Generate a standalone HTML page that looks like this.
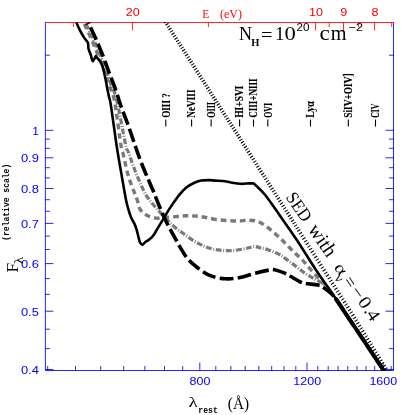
<!DOCTYPE html>
<html><head><meta charset="utf-8"><title>plot</title><style>html,body{margin:0;padding:0;background:#fff}svg{display:block;will-change:transform}</style></head><body>
<svg width="415" height="415" viewBox="0 0 415 415">
<filter id="bl" x="0" y="0" width="415" height="415" filterUnits="userSpaceOnUse" color-interpolation-filters="sRGB"><feConvolveMatrix order="3" kernelMatrix="0.015 0.1 0.015 0.1 0.54 0.1 0.015 0.1 0.015" edgeMode="duplicate" preserveAlpha="false"/></filter>
<g>
<rect width="415" height="415" fill="#fff"/>
<defs><clipPath id="cp"><rect x="45.0" y="21.9" width="349.0" height="348.9"/></clipPath></defs>
<g stroke="#0000ff" stroke-width="0.85" fill="none">
<path d="M45.4 22.5V370.5H393.5V22.5"/>
<path d="M47.7 370.5v-4.5"/>
<path d="M75.5 370.5v-4.5"/>
<path d="M100.7 370.5v-4.5"/>
<path d="M123.7 370.5v-4.5"/>
<path d="M144.9 370.5v-4.5"/>
<path d="M164.5 370.5v-4.5"/>
<path d="M182.7 370.5v-4.5"/>
<path d="M199.8 370.5v-8.0"/>
<path d="M215.8 370.5v-4.5"/>
<path d="M230.9 370.5v-4.5"/>
<path d="M245.2 370.5v-4.5"/>
<path d="M258.8 370.5v-4.5"/>
<path d="M271.7 370.5v-4.5"/>
<path d="M284.0 370.5v-4.5"/>
<path d="M295.8 370.5v-4.5"/>
<path d="M307.0 370.5v-8.0"/>
<path d="M317.8 370.5v-4.5"/>
<path d="M328.2 370.5v-4.5"/>
<path d="M338.1 370.5v-4.5"/>
<path d="M347.8 370.5v-4.5"/>
<path d="M357.0 370.5v-4.5"/>
<path d="M366.0 370.5v-4.5"/>
<path d="M374.7 370.5v-4.5"/>
<path d="M383.1 370.5v-8.0"/>
<path d="M391.2 370.5v-4.5"/>
<path d="M45.4 369.5h8.0"/>
<path d="M393.5 369.5h-8.0"/>
<path d="M45.4 348.6h4.5"/>
<path d="M393.5 348.6h-4.5"/>
<path d="M45.4 329.2h4.5"/>
<path d="M393.5 329.2h-4.5"/>
<path d="M45.4 311.2h8.0"/>
<path d="M393.5 311.2h-8.0"/>
<path d="M45.4 294.4h4.5"/>
<path d="M393.5 294.4h-4.5"/>
<path d="M45.4 278.6h4.5"/>
<path d="M393.5 278.6h-4.5"/>
<path d="M45.4 263.6h8.0"/>
<path d="M393.5 263.6h-8.0"/>
<path d="M45.4 249.5h4.5"/>
<path d="M393.5 249.5h-4.5"/>
<path d="M45.4 236.1h4.5"/>
<path d="M393.5 236.1h-4.5"/>
<path d="M45.4 223.4h8.0"/>
<path d="M393.5 223.4h-8.0"/>
<path d="M45.4 211.3h4.5"/>
<path d="M393.5 211.3h-4.5"/>
<path d="M45.4 199.7h4.5"/>
<path d="M393.5 199.7h-4.5"/>
<path d="M45.4 188.5h8.0"/>
<path d="M393.5 188.5h-8.0"/>
<path d="M45.4 177.9h4.5"/>
<path d="M393.5 177.9h-4.5"/>
<path d="M45.4 167.7h4.5"/>
<path d="M393.5 167.7h-4.5"/>
<path d="M45.4 157.8h8.0"/>
<path d="M393.5 157.8h-8.0"/>
<path d="M45.4 148.3h4.5"/>
<path d="M393.5 148.3h-4.5"/>
<path d="M45.4 139.1h4.5"/>
<path d="M393.5 139.1h-4.5"/>
<path d="M45.4 130.3h8.0"/>
<path d="M393.5 130.3h-8.0"/>
<path d="M45.4 55.2h4.5"/>
<path d="M393.5 55.2h-4.5"/>
</g>
<g stroke="#ff0000" stroke-width="0.85" fill="none">
<path d="M44.9 22.5H394.0"/>
<path d="M73.4 22.5v4.5"/>
<path d="M132.4 22.5v8.0"/>
<path d="M208.4 22.5v4.5"/>
<path d="M315.6 22.5v8.0"/>
<path d="M329.2 22.5v4.5"/>
<path d="M343.5 22.5v8.0"/>
<path d="M358.6 22.5v4.5"/>
<path d="M374.6 22.5v8.0"/>
<path d="M391.7 22.5v4.5"/>
</g>
<g clip-path="url(#cp)" fill="none" stroke-linejoin="round">
<path d="M84.3 24.0 C85.1 25.7 87.0 29.7 89.0 34.0 C91.0 38.3 93.5 44.0 96.0 50.0 C98.5 56.0 101.8 64.2 104.0 70.0 C106.2 75.8 107.3 80.0 109.0 85.0 C110.7 90.0 112.3 90.0 114.3 100.0 C116.3 110.0 119.4 136.1 120.9 145.0 C122.4 153.9 122.4 150.7 123.1 153.7 C123.8 156.7 124.5 160.0 125.2 163.1 C125.9 166.2 126.6 169.4 127.4 172.5 C128.2 175.6 129.2 178.8 130.3 181.9 C131.4 185.0 132.7 188.3 133.9 191.3 C135.1 194.3 136.2 197.1 137.3 200.1 C138.4 203.1 138.6 207.0 140.2 209.5 C141.8 212.0 144.0 213.8 146.7 215.2 C149.3 216.6 153.1 217.7 156.1 218.1 C159.1 218.5 161.5 217.7 164.8 217.4 C168.1 217.2 172.4 216.9 175.8 216.6 C179.2 216.3 182.1 215.9 185.2 215.8 C188.3 215.7 191.3 215.8 194.6 216.0 C197.9 216.2 201.1 216.7 204.8 217.3 C208.5 217.9 212.9 219.0 217.0 219.6 C221.1 220.2 225.8 220.5 229.4 220.7 C233.0 220.9 235.7 221.1 238.8 221.0 C241.9 220.9 245.1 220.1 248.2 220.2 C251.3 220.3 254.7 220.4 257.6 221.4 C260.5 222.4 263.1 224.2 265.8 226.0 C268.5 227.8 271.2 230.3 273.7 232.5 C276.2 234.7 278.6 236.7 281.0 239.0 C283.4 241.3 285.8 243.9 288.2 246.3 C290.6 248.7 293.1 251.3 295.4 253.5 C297.7 255.7 299.8 257.1 301.9 259.3 C304.0 261.5 306.0 264.2 308.1 266.6 C310.2 269.0 312.4 271.5 314.6 273.9 C316.8 276.3 319.2 279.1 321.1 281.1 C323.0 283.1 324.1 283.7 326.1 286.1 C328.2 288.5 332.2 293.9 333.4 295.5" stroke="#7a7a7a" stroke-width="3.4" stroke-dasharray="5.7 3.9"/>
<path d="M86.0 24.0 C87.0 26.0 89.8 31.3 92.0 36.0 C94.2 40.7 96.7 46.3 99.0 52.0 C101.3 57.7 103.8 64.2 106.0 70.0 C108.2 75.8 110.2 82.0 112.0 87.0 C113.8 92.0 114.4 90.3 116.7 100.0 C119.0 109.7 123.8 136.4 125.7 145.0 C127.6 153.6 127.1 148.7 128.1 151.5 C129.1 154.3 130.5 158.2 131.7 161.6 C132.9 165.0 134.1 168.3 135.4 171.7 C136.7 175.1 138.3 178.6 139.7 181.9 C141.1 185.2 142.5 188.4 144.0 191.3 C145.5 194.2 146.8 196.4 148.9 199.3 C151.1 202.2 154.2 205.7 156.9 208.7 C159.6 211.7 162.3 214.8 164.8 217.4 C167.3 220.1 169.8 222.6 172.0 224.6 C174.2 226.6 176.1 228.4 177.8 229.7 C179.5 231.0 179.3 230.6 182.0 232.5 C184.7 234.4 190.1 238.6 194.1 241.0 C198.1 243.4 202.1 245.5 206.1 247.0 C210.1 248.5 213.8 249.3 218.2 249.9 C222.6 250.5 227.9 250.9 232.7 250.6 C237.5 250.3 243.5 248.9 247.1 248.2 C250.7 247.5 252.2 246.6 254.3 246.5 C256.4 246.4 257.6 247.1 260.0 247.7 C262.4 248.3 265.6 248.8 268.7 249.9 C271.8 251.0 275.7 252.5 278.8 254.2 C281.9 255.9 284.4 257.8 287.5 260.0 C290.6 262.2 294.1 265.0 297.2 267.3 C300.3 269.6 303.0 272.0 305.9 273.9 C308.8 275.8 312.1 277.5 314.6 278.9 C317.1 280.3 319.3 281.4 321.1 282.5 C322.9 283.6 323.3 283.2 325.4 285.4 C327.4 287.6 332.1 293.8 333.4 295.5" stroke="#7a7a7a" stroke-width="3.2" stroke-dasharray="5.8 1.7 0.9 1.7"/>
<path d="M165.2 21.5 L246.6 148.9" stroke="#000" stroke-width="3.7" stroke-dasharray="1.05 1.75"/>
<path d="M246.6 148.9 L298.5 230.1" stroke="#000" stroke-width="3.7" stroke-dasharray="1.05 1.87"/>
<path d="M298.5 230.1 L352.0 313.9 L387.6 371.5" stroke="#000" stroke-width="3.7" stroke-dasharray="1.05 2.09"/>
<path d="M85.5 24.6 L90.5 22.3" stroke="#000" stroke-width="1.3" />
<path d="M336.0 299.2 L346.5 314.8 L357.1 330.5 L383.4 370.0 L384.1 371.0" stroke="#000" stroke-width="4" stroke-linecap="round"/>
<path d="M76.4 22.5 C77.0 23.9 78.8 28.1 80.1 30.7 C81.4 33.3 83.0 35.9 84.3 37.9 C85.6 39.9 87.2 40.9 87.9 42.7 C88.6 44.5 88.0 46.6 88.5 48.7 C89.0 50.8 90.2 53.3 90.9 55.4 C91.6 57.5 92.0 61.1 92.8 61.2 C93.6 61.3 95.3 57.0 95.8 56.1 L95.8 56.1 C96.6 57.1 99.5 60.2 100.7 62.2 C101.9 64.2 102.3 65.5 103.1 68.3 C103.9 71.1 104.8 75.7 105.5 79.1 C106.2 82.5 106.7 85.7 107.3 88.7 C107.9 91.7 108.6 94.8 109.1 97.2 C109.6 99.6 109.7 98.4 110.5 103.0 C111.3 107.6 112.6 117.5 113.7 125.0 C114.8 132.5 115.7 139.7 117.0 148.0 C118.3 156.3 120.2 167.2 121.6 175.0 C122.9 182.8 124.2 190.0 125.1 195.0 C126.0 200.0 126.2 201.5 127.2 205.1 C128.2 208.7 129.6 213.6 130.8 216.7 C132.0 219.8 133.5 221.7 134.5 223.9 C135.5 226.1 135.9 227.3 136.6 229.7 C137.3 232.1 138.2 236.2 138.8 238.4 C139.4 240.6 139.6 241.6 140.2 242.7 C140.8 243.8 141.6 245.0 142.4 244.9 C143.2 244.8 144.2 242.8 145.3 242.0 C146.4 241.2 147.6 240.9 148.9 239.8 C150.2 238.7 151.9 237.4 153.3 235.5 C154.8 233.6 155.9 231.1 157.6 228.3 C159.3 225.5 161.7 221.7 163.4 218.9 C165.1 216.1 166.2 214.0 167.7 211.6 C169.2 209.2 170.2 207.5 172.2 204.7 C174.2 201.9 177.1 197.5 179.5 194.6 C181.9 191.7 184.3 189.2 186.7 187.3 C189.1 185.4 191.5 184.1 193.9 183.0 C196.3 181.9 198.7 181.1 201.1 180.6 C203.5 180.1 206.0 180.1 208.4 180.1 C210.8 180.1 212.8 180.4 215.6 180.6 C218.4 180.8 222.6 181.0 225.0 181.3 C227.4 181.6 227.6 181.9 230.1 182.3 C232.6 182.7 237.1 183.6 240.2 183.8 C243.3 184.0 246.7 183.5 248.9 183.4 C251.1 183.3 252.8 183.4 253.6 183.4 L253.6 183.4 C254.0 183.8 254.2 183.7 256.1 185.6 C258.0 187.5 261.1 189.9 265.0 194.8 C268.9 199.7 274.2 207.5 279.5 215.0 C284.8 222.5 290.7 230.8 296.8 240.0 C302.9 249.2 309.8 260.6 316.0 270.0 C322.2 279.4 329.2 289.0 334.3 296.5 C339.4 304.0 342.6 309.1 346.4 314.8 C350.2 320.5 350.9 321.3 357.0 330.5 C363.1 339.7 378.8 363.2 383.3 370.0 C387.8 376.8 383.9 370.8 384.0 371.0" stroke="#000" stroke-width="2.6"/>
<path d="M90.3 27.0 C91.2 28.9 93.6 33.7 95.7 38.5 C97.8 43.3 100.8 50.3 103.0 56.0 C105.2 61.7 107.0 66.8 109.1 72.5 C111.2 78.2 113.7 84.3 115.7 89.9 C117.7 95.5 118.9 100.4 120.9 106.0 C122.9 111.6 125.4 117.7 127.5 123.5 C129.6 129.3 131.6 135.1 133.6 141.0 C135.6 146.9 137.6 153.1 139.7 158.7 C141.8 164.3 143.9 169.2 146.2 174.6 C148.5 180.0 151.1 185.9 153.4 191.3 C155.7 196.8 157.5 202.0 159.8 207.3 C162.1 212.6 164.2 217.7 167.0 223.2 C169.8 228.7 173.1 234.7 176.4 240.5 C179.7 246.3 183.2 253.1 186.9 257.8 C190.7 262.5 194.9 265.7 198.9 268.7 C202.9 271.7 206.6 274.2 211.0 275.9 C215.4 277.6 220.6 278.5 225.4 278.8 C230.2 279.1 235.1 278.5 239.9 277.6 C244.7 276.7 249.3 274.8 254.3 273.5 C259.3 272.2 266.6 270.5 270.0 269.9 C273.4 269.3 272.1 269.3 274.5 269.8 C276.9 270.3 281.5 271.9 284.1 272.9 C286.7 273.9 287.3 274.5 290.0 276.0 C292.7 277.5 297.6 280.6 300.1 281.8 C302.6 283.1 302.2 283.0 305.2 283.5 C308.2 284.0 315.3 284.4 318.2 285.0 C321.1 285.6 319.8 284.9 322.5 286.9 C325.2 288.9 330.3 292.1 334.3 296.8 C338.3 301.5 342.6 309.2 346.4 314.8 C350.2 320.4 350.9 321.3 357.0 330.5 C363.1 339.7 378.8 363.2 383.3 370.0 C387.8 376.8 383.9 370.8 384.0 371.0" stroke="#000" stroke-width="3.6" stroke-dasharray="13.8 4.3" stroke-dashoffset="-0.5"/>
</g>
<g font-family="Liberation Sans, sans-serif" font-size="11.5" fill="#0000ff">
<text x="189.6" y="385.3" textLength="20.8" lengthAdjust="spacingAndGlyphs">800</text>
<text x="293.3" y="385.3" textLength="27.8" lengthAdjust="spacingAndGlyphs">1200</text>
<text x="369.4" y="385.3" textLength="27.8" lengthAdjust="spacingAndGlyphs">1600</text>
<text x="32.2" y="134.6" textLength="6.7" lengthAdjust="spacingAndGlyphs">1</text>
<text x="20.9" y="162.1" textLength="18.0" lengthAdjust="spacingAndGlyphs">0.9</text>
<text x="20.9" y="192.8" textLength="18.0" lengthAdjust="spacingAndGlyphs">0.8</text>
<text x="20.9" y="227.7" textLength="18.0" lengthAdjust="spacingAndGlyphs">0.7</text>
<text x="20.9" y="267.9" textLength="18.0" lengthAdjust="spacingAndGlyphs">0.6</text>
<text x="20.9" y="315.5" textLength="18.0" lengthAdjust="spacingAndGlyphs">0.5</text>
<text x="20.9" y="373.8" textLength="18.0" lengthAdjust="spacingAndGlyphs">0.4</text>
</g>
<g font-family="Liberation Sans, sans-serif" font-size="11.5" fill="#ff0000">
<text x="125.7" y="16.4" textLength="14.0" lengthAdjust="spacingAndGlyphs">20</text>
<text x="308.9" y="16.4" textLength="14.0" lengthAdjust="spacingAndGlyphs">10</text>
<text x="340.3" y="16.4" textLength="7.0" lengthAdjust="spacingAndGlyphs">9</text>
<text x="371.4" y="16.4" textLength="7.0" lengthAdjust="spacingAndGlyphs">8</text>
</g>
<g font-family="Liberation Serif, serif" font-size="11.5" fill="#ff0000">
<text x="202.2" y="17.6">E</text>
<text x="220" y="17.6" textLength="22" lengthAdjust="spacingAndGlyphs">(eV)</text>
</g>
<g font-family="Liberation Serif, serif" fill="#000">
<text x="239" y="40" font-size="18">N</text>
<text x="251.3" y="45.8" font-size="10.5" font-weight="bold">H</text>
<text x="261" y="40.8" font-size="18" textLength="11.5" lengthAdjust="spacingAndGlyphs">=</text>
<text x="275" y="40.2" font-size="19">1</text>
<text x="284.4" y="40.2" font-size="19" textLength="11.3" lengthAdjust="spacingAndGlyphs">0</text>
<text x="296.6" y="31.3" font-size="10.6" font-family="Liberation Sans, sans-serif" textLength="13" lengthAdjust="spacingAndGlyphs">20</text>
<text x="319.5" y="40" font-size="21" textLength="10.3" lengthAdjust="spacingAndGlyphs">c</text>
<text x="330.7" y="40" font-size="21" textLength="15.8" lengthAdjust="spacingAndGlyphs">m</text>
<text x="348.6" y="31.4" font-size="11" font-family="Liberation Sans, sans-serif" textLength="14.4" lengthAdjust="spacingAndGlyphs">−2</text>
</g>
<path d="M165.8 126.6V119.6" stroke="#000" stroke-width="1.1" fill="none"/>
<text transform="translate(169.5 117.8) rotate(-90)" font-family="Liberation Serif, serif" font-weight="bold" font-size="12.4" stroke="#000" stroke-width="0.15" textLength="24.6" lengthAdjust="spacingAndGlyphs" xml:space="preserve">OIII ?</text>
<path d="M191.6 126.6V119.6" stroke="#000" stroke-width="1.1" fill="none"/>
<text transform="translate(195.3 117.8) rotate(-90)" font-family="Liberation Serif, serif" font-weight="bold" font-size="12.4" stroke="#000" stroke-width="0.15" textLength="28.3" lengthAdjust="spacingAndGlyphs" xml:space="preserve">NeVIII</text>
<path d="M211.1 126.6V119.6" stroke="#000" stroke-width="1.1" fill="none"/>
<text transform="translate(214.8 117.8) rotate(-90)" font-family="Liberation Serif, serif" font-weight="bold" font-size="12.4" stroke="#000" stroke-width="0.15" textLength="15.8" lengthAdjust="spacingAndGlyphs" xml:space="preserve">OIII</text>
<path d="M239.6 126.6V119.6" stroke="#000" stroke-width="1.1" fill="none"/>
<text transform="translate(243.3 117.8) rotate(-90)" font-family="Liberation Serif, serif" font-weight="bold" font-size="12.4" stroke="#000" stroke-width="0.15" textLength="32.2" lengthAdjust="spacingAndGlyphs" xml:space="preserve">HI+SVI</text>
<path d="M253.5 126.6V119.6" stroke="#000" stroke-width="1.1" fill="none"/>
<text transform="translate(257.2 117.8) rotate(-90)" font-family="Liberation Serif, serif" font-weight="bold" font-size="12.4" stroke="#000" stroke-width="0.15" textLength="39.3" lengthAdjust="spacingAndGlyphs" xml:space="preserve">CIII+NIII</text>
<path d="M267.8 126.6V119.6" stroke="#000" stroke-width="1.1" fill="none"/>
<text transform="translate(271.5 117.8) rotate(-90)" font-family="Liberation Serif, serif" font-weight="bold" font-size="12.4" stroke="#000" stroke-width="0.15" textLength="14.9" lengthAdjust="spacingAndGlyphs" xml:space="preserve">OVI</text>
<path d="M310.5 126.6V119.6" stroke="#000" stroke-width="1.1" fill="none"/>
<text transform="translate(314.2 117.8) rotate(-90)" font-family="Liberation Serif, serif" font-weight="bold" font-size="12.4" stroke="#000" stroke-width="0.15" textLength="16.7" lengthAdjust="spacingAndGlyphs" xml:space="preserve">Lyα</text>
<path d="M348.3 126.6V119.6" stroke="#000" stroke-width="1.1" fill="none"/>
<text transform="translate(352.0 117.8) rotate(-90)" font-family="Liberation Serif, serif" font-weight="bold" font-size="12.4" stroke="#000" stroke-width="0.15" textLength="44.4" lengthAdjust="spacingAndGlyphs" xml:space="preserve">SiIV+OIV]</text>
<path d="M375.5 126.6V119.6" stroke="#000" stroke-width="1.1" fill="none"/>
<text transform="translate(379.2 117.8) rotate(-90)" font-family="Liberation Serif, serif" font-weight="bold" font-size="12.4" stroke="#000" stroke-width="0.15" textLength="14.2" lengthAdjust="spacingAndGlyphs" xml:space="preserve">CIV</text>
<g transform="translate(285.3 197.3) rotate(55.5)" font-family="Liberation Serif, serif" font-size="18" fill="#000">
<text x="0" y="0" textLength="31.5" lengthAdjust="spacingAndGlyphs">SED</text>
<text x="39.2" y="0" font-size="20" textLength="34.8" lengthAdjust="spacingAndGlyphs">with</text>
<text x="85.2" y="0" font-size="16.5" textLength="11" lengthAdjust="spacingAndGlyphs">α</text>
<text x="94.3" y="5.6" font-size="13">ν</text>
<text x="101.5" y="0.5">=</text>
<text x="113.6" y="0" textLength="11.6" lengthAdjust="spacingAndGlyphs">−</text>
<text x="126.9" y="0" textLength="10" lengthAdjust="spacingAndGlyphs">0</text>
<text x="138" y="0">.</text>
<text x="142" y="0" textLength="10" lengthAdjust="spacingAndGlyphs">4</text>
</g>
<text transform="translate(18 272.6) rotate(-90)" font-family="Liberation Serif, serif" font-size="17.5">F</text>
<text transform="translate(23.2 264.3) rotate(-90)" font-family="Liberation Serif, serif" font-size="12.5" textLength="7.5" lengthAdjust="spacingAndGlyphs">λ</text>
<text transform="translate(9.4 240.8) rotate(-90)" font-family="Liberation Mono, monospace" font-weight="bold" font-size="8.4" textLength="77" lengthAdjust="spacingAndGlyphs" xml:space="preserve">(relative scale)</text>
<text x="188.5" y="407" font-family="Liberation Serif, serif" font-size="14" textLength="9.3" lengthAdjust="spacingAndGlyphs">λ</text>
<text x="198.3" y="412.6" font-family="Liberation Mono, monospace" font-weight="bold" font-size="9" textLength="19.5" lengthAdjust="spacingAndGlyphs">rest</text>
<text x="227.8" y="408.6" font-family="Liberation Serif, serif" font-size="17" textLength="21.2" lengthAdjust="spacingAndGlyphs">(Å)</text>
</g>
</svg>
</body></html>
